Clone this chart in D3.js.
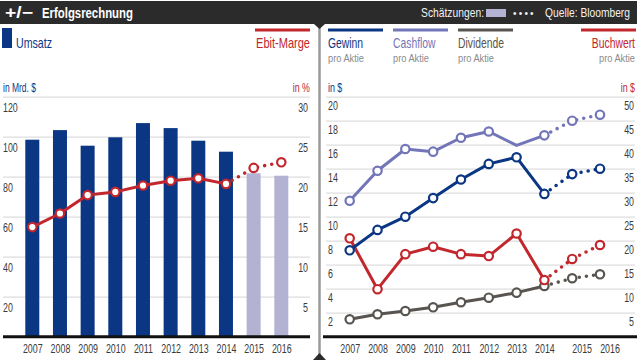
<!DOCTYPE html>
<html><head><meta charset="utf-8">
<script src="https://cdn.jsdelivr.net/npm/d3@7/dist/d3.min.js"></script>
<style>
body{margin:0;background:#fff;}
svg{display:block;font-family:"Liberation Sans",Arial,sans-serif;}
</style></head><body>
<svg id="c" width="638" height="360"></svg>
<script>
const years = [2007, 2008, 2009, 2010, 2011, 2012, 2013, 2014, 2015, 2016];
const firstEstimate = 2015;
const umsatz = [98.5, 103.3, 95.5, 99.7, 106.8, 104.3, 98, 92.5, 81.7, 80.5];
const ebitMarge = [13.7, 15.4, 17.7, 18.1, 18.9, 19.5, 19.8, 19.1, 21.1, 21.8];
const gewinn = [7.2, 8.9, 10.0, 11.55, 13.1, 14.4, 14.95, 11.9, 13.55, 14.0];
const cashflow = [11.33, 13.83, 15.64, 15.42, 16.58, 17.1, 15.94, 16.78, 18.0, 18.5];
const cashflowMarker = [1, 1, 1, 1, 1, 1, 0, 1, 1, 1];
const dividende = [1.45, 1.87, 2.14, 2.45, 2.87, 3.25, 3.67, 4.23, 4.87, 5.2];
const buchwert = [20.5, 9.9, 17.2, 18.75, 17.2, 16.8, 21.5, 11.8, 16.2, 19.1];
const leftTicks = [20, 40, 60, 80, 100, 120];
const pctTicks = [5, 10, 15, 20, 25, 30];
const dollarTicks = [2, 4, 6, 8, 10, 12, 14, 16, 18, 20];
const bwTicks = [5, 10, 15, 20, 25, 30, 35, 40, 45, 50];

const C = {
  blue: "#0b3683", est: "#b4b2d3", red: "#c1272d", cash: "#7276b8",
  div: "#58544f", grid: "#dedede", text: "#3a3a3a", header: "#2b2b2b", grey: "#8a8a8a"
};

const svg = d3.select("#c");

// header
svg.append("rect").attr("x", 0).attr("y", 1).attr("width", 637).attr("height", 23).attr("fill", C.header);
svg.append("text").attr("x", 5).attr("y", 18).attr("fill", "#fff").attr("font-size", 16).attr("font-weight", "bold").attr("data-w", 28).text("+/−");
svg.append("text").attr("x", 42).attr("y", 18).attr("fill", "#fff").attr("font-size", 15).attr("font-weight", "bold").attr("data-w", 91).text("Erfolgsrechnung");
svg.append("text").attr("x", 484).attr("y", 17).attr("fill", "#f2f2f2").attr("font-size", 12).attr("text-anchor", "end").attr("data-w", 63).text("Schätzungen:");
svg.append("rect").attr("x", 486).attr("y", 9).attr("width", 20).attr("height", 8).attr("fill", C.est);
svg.append("text").attr("x", 513).attr("y", 16.5).attr("fill", "#f2f2f2").attr("font-size", 10).attr("letter-spacing", 2.2).attr("data-nc", 1).text("••••");
svg.append("text").attr("x", 630).attr("y", 17).attr("fill", "#f2f2f2").attr("font-size", 12).attr("text-anchor", "end").attr("data-w", 85).text("Quelle: Bloomberg");

// divider
svg.append("line").attr("x1", 319.5).attr("x2", 319.5).attr("y1", 24).attr("y2", 356).attr("stroke", "#9a9a9a").attr("stroke-width", 2.5);
svg.append("path").attr("d", "M314,24 L325,24 L319.5,29 Z").attr("fill", C.header);
svg.append("path").attr("d", "M313,360 L326,360 L319.5,353 Z").attr("fill", C.header);

// ---------- left chart ----------
const xL = d3.scaleLinear().domain([2007, 2016]).range([32.3, 281.3]);
const yL = d3.scaleLinear().domain([0, 120]).range([336.7, 96.7]);
const yP = d3.scaleLinear().domain([0, 30]).range([336.7, 96.7]);
const barW = 14;

// legend
svg.append("rect").attr("x", 2).attr("y", 28).attr("width", 10).attr("height", 20).attr("fill", C.blue);
svg.append("text").attr("x", 16).attr("y", 48).attr("fill", C.blue).attr("font-size", 14).attr("data-w", 36).text("Umsatz");
svg.append("line").attr("x1", 255).attr("x2", 310).attr("y1", 30).attr("y2", 30).attr("stroke", C.red).attr("stroke-width", 3);
svg.append("text").attr("x", 310).attr("y", 48).attr("fill", C.red).attr("font-size", 14).attr("text-anchor", "end").attr("data-w", 54).text("Ebit-Marge");
svg.append("text").attr("x", 3).attr("y", 92).attr("fill", C.blue).attr("font-size", 12).attr("data-w", 33).text("in Mrd. $");
svg.append("text").attr("x", 310).attr("y", 92).attr("fill", C.red).attr("font-size", 12).attr("text-anchor", "end").text("in %");

function styleAxis(g) {
  g.select(".domain").remove();
  g.selectAll("text").attr("fill", C.text).attr("font-size", 12).attr("font-family", null);
}

// gridlines
const gl = svg.append("g").attr("transform", "translate(3,0)")
  .call(d3.axisLeft(yL).tickValues(leftTicks).tickSize(-307).tickFormat(""));
gl.select(".domain").remove();
gl.selectAll("line").attr("stroke", C.grid).attr("stroke-width", 1.3);

const al = svg.append("g").attr("transform", "translate(3,0)")
  .call(d3.axisRight(yL).tickValues(leftTicks).tickSize(0).tickPadding(0));
styleAxis(al);
al.selectAll("text").attr("dy", "1.2em");

const ar = svg.append("g").attr("transform", "translate(308,0)")
  .call(d3.axisLeft(yP).tickValues(pctTicks).tickSize(0).tickPadding(0));
styleAxis(ar);
ar.selectAll("text").attr("dy", "1.2em");

// bars
svg.append("g").selectAll("rect").data(years).join("rect")
  .attr("x", d => xL(d) - barW / 2)
  .attr("width", barW)
  .attr("y", (d, i) => yL(umsatz[i]))
  .attr("height", (d, i) => yL(0) - yL(umsatz[i]))
  .attr("fill", d => d >= firstEstimate ? C.est : C.blue);

// baseline
svg.append("line").attr("x1", 3).attr("x2", 310).attr("y1", yL(0)).attr("y2", yL(0)).attr("stroke", "#111").attr("stroke-width", 3);

const xaL = svg.append("g").attr("transform", `translate(0,${yL(0)})`)
  .call(d3.axisBottom(xL).tickValues(years).tickFormat(d3.format("d")).tickSize(0).tickPadding(8));
styleAxis(xaL);

function drawSeries(g, x, y, vals, color, markers) {
  const pts = years.map((d, i) => ({ year: d, v: vals[i], m: markers ? markers[i] : 1 }));
  const solid = pts.filter(p => p.year < firstEstimate);
  const dotted = pts.filter(p => p.year >= firstEstimate - 1);
  const line = d3.line().x(p => x(p.year)).y(p => y(p.v));
  g.append("path").attr("d", line(solid)).attr("fill", "none").attr("stroke", color)
    .attr("stroke-width", 3).attr("stroke-linejoin", "round");
  g.append("path").attr("d", line(dotted)).attr("fill", "none").attr("stroke", color)
    .attr("stroke-width", 3.6).attr("stroke-linecap", "round").attr("stroke-dasharray", "0,7.2");
  g.selectAll("circle").data(pts.filter(p => p.m)).join("circle")
    .attr("cx", p => x(p.year)).attr("cy", p => y(p.v)).attr("r", 4.2)
    .attr("fill", "#fff").attr("stroke", color).attr("stroke-width", 2.2);
}

drawSeries(svg.append("g"), xL, yP, ebitMarge, C.red);

// ---------- right chart ----------
const xR = d3.scaleLinear().domain([2007, 2016]).range([349.7, 600]);
const yR = d3.scaleLinear().domain([0, 20]).range([336.7, 96.7]);
const yB = d3.scaleLinear().domain([0, 50]).range([336.7, 96.7]);

const legends = [
  { name: "Gewinn", color: C.blue, x1: 328, x2: 383, anchor: "start" },
  { name: "Cashflow", color: C.cash, x1: 393, x2: 448, anchor: "start" },
  { name: "Dividende", color: C.div, x1: 458, x2: 513, anchor: "start" },
  { name: "Buchwert", color: C.red, x1: 581, x2: 636, anchor: "end" }
];
legends.forEach(l => {
  svg.append("line").attr("x1", l.x1).attr("x2", l.x2).attr("y1", 30).attr("y2", 30).attr("stroke", l.color).attr("stroke-width", 3);
  const tx = l.anchor === "start" ? l.x1 : l.x2 - 1;
  svg.append("text").attr("x", tx).attr("y", 48).attr("fill", l.color).attr("font-size", 14).attr("text-anchor", l.anchor).text(l.name);
  svg.append("text").attr("x", tx).attr("y", 62.5).attr("fill", C.grey).attr("font-size", 11).attr("text-anchor", l.anchor).attr("data-w", 36).text("pro Aktie");
});
svg.append("text").attr("x", 328).attr("y", 92).attr("fill", C.blue).attr("font-size", 12).text("in $");
svg.append("text").attr("x", 635).attr("y", 92).attr("fill", C.red).attr("font-size", 12).attr("text-anchor", "end").text("in $");

const gr = svg.append("g").attr("transform", "translate(326,0)")
  .call(d3.axisLeft(yR).tickValues(dollarTicks).tickSize(-309).tickFormat(""));
gr.select(".domain").remove();
gr.selectAll("line").attr("stroke", C.grid).attr("stroke-width", 1.3);

const arl = svg.append("g").attr("transform", "translate(328,0)")
  .call(d3.axisRight(yR).tickValues(dollarTicks).tickSize(0).tickPadding(0));
styleAxis(arl);
arl.selectAll("text").attr("dy", "1.1em");

const arr = svg.append("g").attr("transform", "translate(634,0)")
  .call(d3.axisLeft(yB).tickValues(bwTicks).tickSize(0).tickPadding(0));
styleAxis(arr);
arr.selectAll("text").attr("dy", "1.1em");

svg.append("line").attr("x1", 323).attr("x2", 637).attr("y1", yR(0)).attr("y2", yR(0)).attr("stroke", "#111").attr("stroke-width", 3);

const xaR = svg.append("g").attr("transform", `translate(0,${yR(0)})`)
  .call(d3.axisBottom(xR).tickValues(years).tickFormat(d3.format("d")).tickSize(0).tickPadding(8));
styleAxis(xaR);
xaR.selectAll("text").attr("dx", d => d >= firstEstimate ? 9.5 : 0);

drawSeries(svg.append("g"), xR, yR, dividende, C.div);
drawSeries(svg.append("g"), xR, yB, buchwert, C.red);
drawSeries(svg.append("g"), xR, yR, cashflow, C.cash, cashflowMarker);
drawSeries(svg.append("g"), xR, yR, gewinn, C.blue);

// condense all text horizontally (mimics a condensed typeface), scaling about the anchor point
svg.selectAll("text").each(function () {
  const el = d3.select(this);
  if (el.attr("data-nc")) return;
  const w = this.getComputedTextLength();
  if (!w) return;
  const target = el.attr("data-w") ? +el.attr("data-w") : w * 0.74;
  const sx = target / w;
  const ax = +(el.attr("x") || 0) + (parseFloat(el.attr("dx")) || 0);
  el.attr("transform", `translate(${ax},0) scale(${sx},1) translate(${-ax},0)`);
});
</script>
</body></html>
